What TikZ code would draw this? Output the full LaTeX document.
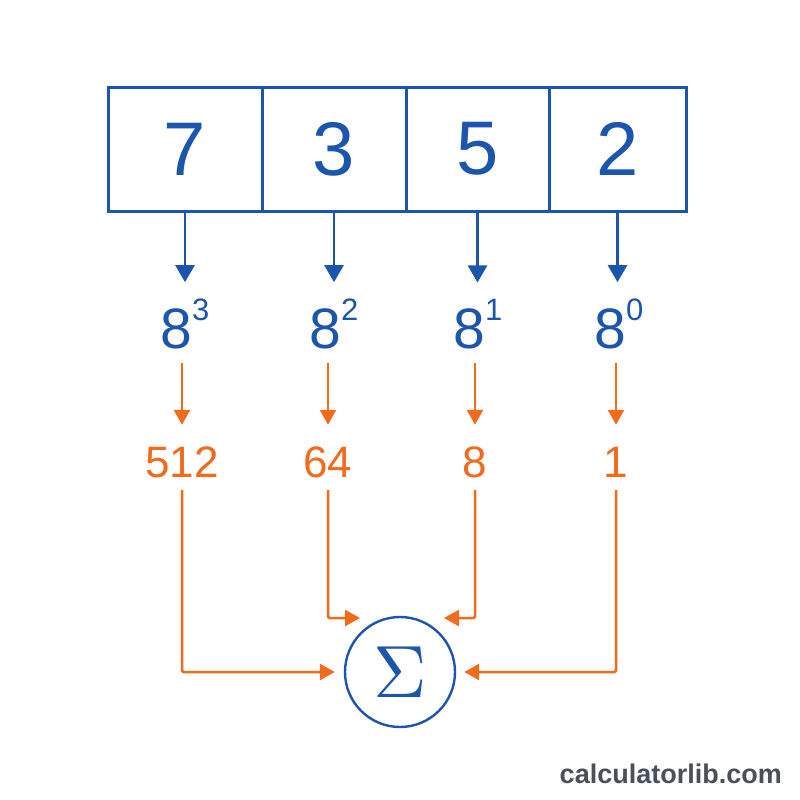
\documentclass[tikz,border=0pt]{standalone}
\usepackage[no-math]{fontspec}
\setmainfont{Liberation Sans}
\usetikzlibrary{arrows.meta}
\definecolor{bl}{HTML}{1B55AD}
\definecolor{og}{HTML}{F26A1B}
\definecolor{wm}{HTML}{4A4F5C}
\tikzset{
  cell/.style={draw=bl, line width=3pt, minimum height=124pt, inner sep=0pt, text=bl, font=\fontsize{76}{76}\selectfont},
  pw/.style={text=bl, inner sep=0pt, anchor=base, font=\fontsize{57}{57}\selectfont},
  num/.style={text=og, inner sep=0pt, anchor=base, text height=31pt, text depth=0pt, font=\fontsize{44}{44}\selectfont},
  barrow/.style={draw=bl, line width=2.7pt, -{Triangle[width=19pt,length=17pt]}},
  oarrow/.style={draw=og, line width=2.5pt, -{Triangle[width=16pt,length=15pt]}, rounded corners=1.5pt},
}
\newcommand{\pwr}[1]{8\raisebox{28pt}{\fontsize{31}{31}\selectfont #1}}
\begin{document}
\begin{tikzpicture}[x=1pt,y=-1pt]
\useasboundingbox (0,0) rectangle (800,800);
\fill[white] (0,0) rectangle (800,800);
% cells
\node[cell, minimum width=154pt] (c1) at (185,149) {7};
\node[cell, minimum width=144pt] (c2) at (334,149) {3};
\node[cell, minimum width=143pt] (c3) at (477.5,149) {5};
\node[cell, minimum width=137pt] (c4) at (617.5,149) {2};
% powers
\node[pw] (p1) at (185,348) {\pwr{3}};
\node[pw] (p2) at (334,348) {\pwr{2}};
\node[pw] (p3) at (478,348) {\pwr{1}};
\node[pw] (p4) at (619,348) {\pwr{0}};
% values
\node[num] (n1) at (182,477) {512};
\node[num] (n2) at (328,477) {64};
\node[num] (n3) at (475,477) {8};
\node[num] (n4) at (616,477) {1};
% sigma
\node[circle, draw=bl, line width=2.4pt, minimum size=110pt, inner sep=0pt, text=bl] (s) at (400,672) {\scalebox{7.4}{$\Sigma$}};
\coordinate (t2) at (360,618);
\coordinate (t3) at (444,618);
% blue arrows
\foreach \i in {1,2,3,4}{
  \draw[barrow, shorten >=16pt] (c\i.south) -- (c\i.south |- p\i.north);
}
% orange arrows
\foreach \i in {1,2,3,4}{
  \draw[oarrow, shorten <=14pt, shorten >=21pt] (n\i |- p\i.south) -- (n\i.north);
}
\draw[oarrow, shorten <=13pt, shorten >=9pt] (n1.south) |- (s.west);
\draw[oarrow, shorten <=13pt] (n2.south) |- (t2);
\draw[oarrow, shorten <=13pt] (n3.south) |- (t3);
\draw[oarrow, shorten <=13pt, shorten >=8pt] (n4.south) |- (s.east);
% watermark
\node[font=\bfseries\fontsize{27}{27}\selectfont, text=wm, anchor=base east, inner sep=0pt] (wmk) at (782,783) {calculatorlib.com};
\end{tikzpicture}
\end{document}
